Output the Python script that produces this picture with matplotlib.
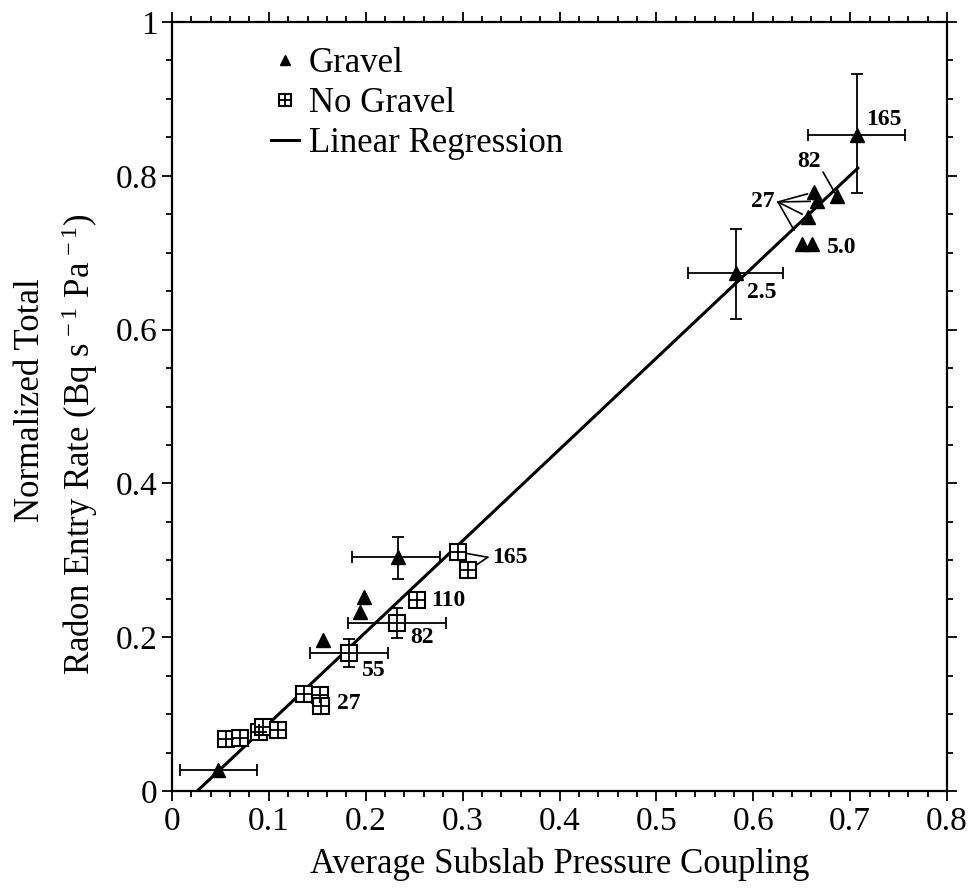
import numpy as np
import matplotlib
matplotlib.use('Agg')
import matplotlib.pyplot as plt
from matplotlib.ticker import MultipleLocator, FuncFormatter

matplotlib.rcParams['font.family'] = ['Liberation Serif', 'DejaVu Serif']
matplotlib.rcParams['mathtext.fontset'] = 'custom'
matplotlib.rcParams['mathtext.rm'] = 'Liberation Serif'
matplotlib.rcParams['mathtext.it'] = 'Liberation Serif:italic'

# gravel sites (filled triangles)
gravel_x = [0.048, 0.156, 0.194, 0.198, 0.233, 0.582, 0.650, 0.661, 0.657, 0.663, 0.666, 0.686, 0.707]
gravel_y = [0.027, 0.196, 0.233, 0.252, 0.304, 0.674, 0.712, 0.712, 0.746, 0.779, 0.767, 0.774, 0.853]

# sites without gravel (boxed squares)
nogravel_x = [0.056, 0.070, 0.090, 0.094, 0.109, 0.136, 0.153, 0.154, 0.183, 0.232, 0.253, 0.295, 0.306]
nogravel_y = [0.068, 0.069, 0.077, 0.083, 0.079, 0.126, 0.125, 0.111, 0.179, 0.218, 0.248, 0.311, 0.287]

# error ranges: (index, x low, x high, y low, y high)
gravel_err = [(0, 0.008, 0.088, None, None),
              (4, 0.186, 0.277, 0.276, 0.330),
              (5, 0.533, 0.631, 0.614, 0.731),
              (12, 0.657, 0.757, 0.778, 0.932)]
nogravel_err = [(8, 0.142, 0.223, 0.161, 0.198),
                (9, 0.182, 0.283, 0.199, 0.238)]

# linear regression fit
reg_slope = 1.188
reg_intercept = -0.031
reg_xmin, reg_xmax = 0.026, 0.708

# permeability labels: text, x, y
point_labels = [('165', 0.717, 0.873), ('82', 0.645, 0.818), ('27', 0.598, 0.766),
                ('5.0', 0.676, 0.707), ('2.5', 0.594, 0.648), ('165', 0.330, 0.304),
                ('110', 0.268, 0.248), ('82', 0.246, 0.199), ('55', 0.196, 0.157),
                ('27', 0.170, 0.114)]

fig, ax = plt.subplots(figsize=(9.69, 8.92), dpi=100)
fig.subplots_adjust(left=0.1775, right=0.9773, bottom=0.1132, top=0.9753)

# error bars
for idx, xlo, xhi, ylo, yhi in gravel_err:
    x, y = gravel_x[idx], gravel_y[idx]
    yerr = None if ylo is None else [[y - ylo], [yhi - y]]
    ax.errorbar([x], [y], xerr=[[x - xlo], [xhi - x]], yerr=yerr, fmt='none',
                ecolor='k', elinewidth=1.3, capsize=4, capthick=1.3, zorder=2)
for idx, xlo, xhi, ylo, yhi in nogravel_err:
    x, y = nogravel_x[idx], nogravel_y[idx]
    ax.errorbar([x], [y], xerr=[[x - xlo], [xhi - x]], yerr=[[y - ylo], [yhi - y]], fmt='none',
                ecolor='k', elinewidth=1.3, capsize=4, capthick=1.3, zorder=2)

# regression line
xr = np.array([reg_xmin, reg_xmax])
line_reg, = ax.plot(xr, reg_slope*xr + reg_intercept, '-k', lw=2.2, zorder=3)

# markers
tri, = ax.plot(gravel_x, gravel_y, '^k', ms=10, zorder=5, linestyle='none')
sq, = ax.plot(nogravel_x, nogravel_y, 's', ms=12, mfc='white', mec='k', mew=1.5,
              zorder=4, linestyle='none')
pl, = ax.plot(nogravel_x, nogravel_y, '+', ms=12, mec='k', mew=1.3, zorder=4, linestyle='none')

# labels
for txt, x, y in point_labels:
    ax.text(x, y, txt, fontsize=17, fontweight='bold', ha='left', va='center', zorder=6)

# leader lines
lk = dict(arrowstyle='-', color='k', lw=1.2, shrinkA=0)
a27 = (0.6255, 0.766)
for idx, s in [(9, 5), (10, 5), (8, 5), (6, 11)]:
    ax.annotate('', xy=(gravel_x[idx], gravel_y[idx]), xytext=a27,
                arrowprops=dict(lk, shrinkB=s))
ax.annotate('', xy=(gravel_x[11], gravel_y[11]), xytext=(0.672, 0.805),
            arrowprops=dict(lk, shrinkB=0))
a165 = (0.326, 0.304)
for idx in [11, 12]:
    ax.annotate('', xy=(nogravel_x[idx], nogravel_y[idx]), xytext=a165,
                arrowprops=dict(lk, shrinkB=6))

# axes
ax.set_xlim(0, 0.8)
ax.set_ylim(0, 1)
ax.xaxis.set_major_locator(MultipleLocator(0.1))
ax.xaxis.set_minor_locator(MultipleLocator(0.02))
ax.yaxis.set_major_locator(MultipleLocator(0.2))
ax.yaxis.set_minor_locator(MultipleLocator(0.05))
fmt = FuncFormatter(lambda v, p: '0' if v == 0 else f'{v:g}')
ax.xaxis.set_major_formatter(fmt)
ax.yaxis.set_major_formatter(fmt)
ax.tick_params(which='both', direction='out', top=True, right=True, width=1.3, labelsize=24)
ax.tick_params(which='major', length=7)
ax.tick_params(which='minor', length=4)
ax.tick_params(axis='x', pad=4)
for sp in ax.spines.values():
    sp.set_linewidth(1.6)

ax.set_xlabel('Average Subslab Pressure Coupling', fontsize=25, labelpad=8)

# two-line y label
fig.text(31/969, 1 - 400/892, 'Normalized Total', rotation=90, fontsize=25,
         ha='center', va='center')
fig.text(80/969, 1 - 444/892, r'Radon Entry Rate (Bq s$^{\,-1}$ Pa$^{\,-1}$)', rotation=90,
         fontsize=25, ha='center', va='center')

# legend
leg = ax.legend([tri, (sq, pl), line_reg], ['Gravel', 'No Gravel', 'Linear Regression'],
                loc='upper left', bbox_to_anchor=(0.105, 0.99), frameon=False, fontsize=25,
                handlelength=0.8, handletextpad=0.3, labelspacing=0.2, borderpad=0,
                markerscale=0.75)

fig.savefig('out.png', dpi=100)
